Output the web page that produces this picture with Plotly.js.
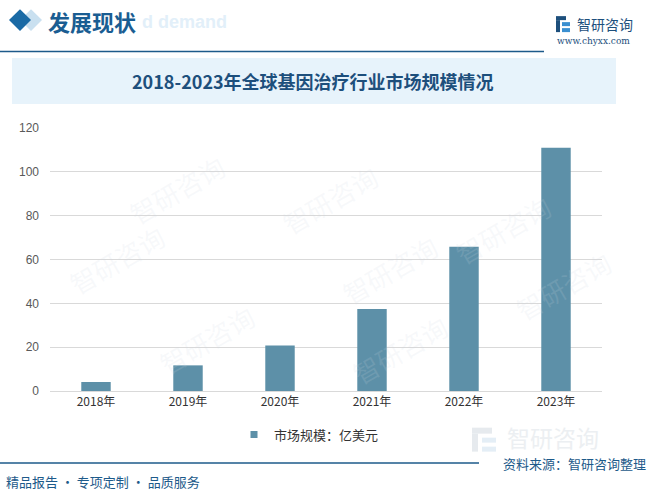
<!DOCTYPE html>
<html>
<head>
<meta charset="utf-8">
<script src="https://cdn.plot.ly/plotly-3.0.1.min.js"></script>
<style>
html,body{margin:0;padding:0;background:#fff;}
#chart{width:654px;height:497px;}
</style>
</head>
<body>
<div id="chart"></div>
<script>
// ---- data ----
const categories = ['2018年', '2019年', '2020年', '2021年', '2022年', '2023年'];
const marketSize = [4.1, 11.7, 20.8, 37.4, 65.8, 111];
const seriesName = '市场规模：亿美元';
const yTickValues = [0, 20, 40, 60, 80, 100, 120];
const chartTitle = '2018-2023年全球基因治疗行业市场规模情况';
const headerTitle = '发展现状';
const footerLeft = '精品报告 · 专项定制 · 品质服务';
const footerRight = '资料来源：智研咨询整理';

// ---- geometry helpers (pixel -> paper) ----
const W = 654, H = 497;
const L = 50, R = 602, T = 128, B = 391.3;
const px = x => (x - L) / (R - L);
const py = y => (B - y) / (B - T);

const CJK = '"Noto Sans CJK SC", "DejaVu Sans", sans-serif';

const traces = [
  {
    type: 'bar',
    x: categories,
    y: marketSize,
    marker: {color: '#5d90a8'},
    width: 0.32,
    showlegend: false,
    hoverinfo: 'x+y'
  },
  {
    type: 'scatter',
    mode: 'markers',
    x: [null],
    y: [null],
    name: seriesName,
    marker: {symbol: 'square', size: 7, color: '#5d90a8'},
    showlegend: true
  }
];

const shapes = [
  // title band
  {type: 'rect', xref: 'paper', yref: 'paper', x0: px(12), x1: px(616), y0: py(58), y1: py(104),
   fillcolor: '#e7f3fb', line: {width: 0}, layer: 'below'},
  // header line
  {type: 'line', xref: 'paper', yref: 'paper', x0: px(0), x1: px(544), y0: py(51.5), y1: py(51.5),
   line: {color: '#1d5a8a', width: 1.5}},
  // footer line
  {type: 'line', xref: 'paper', yref: 'paper', x0: px(0), x1: px(479), y0: py(463.5), y1: py(463.5),
   line: {color: '#1d5a8a', width: 1.5}},
  // light diamond
  {type: 'path', xref: 'paper', yref: 'paper',
   path: `M ${px(31)} ${py(9)} L ${px(42)} ${py(20)} L ${px(31)} ${py(31)} L ${px(20)} ${py(20)} Z`,
   fillcolor: '#c9e0f0', line: {width: 0}},
  // dark diamond
  {type: 'path', xref: 'paper', yref: 'paper',
   path: `M ${px(20)} ${py(9)} L ${px(31)} ${py(20)} L ${px(20)} ${py(31)} L ${px(9)} ${py(20)} Z`,
   fillcolor: '#1a6aa5', line: {width: 0}},
  // logo icon (top right)
  {type: 'rect', xref: 'paper', yref: 'paper', x0: px(556), x1: px(566), y0: py(16), y1: py(20),
   fillcolor: '#1d4f7c', line: {width: 0}},
  {type: 'rect', xref: 'paper', yref: 'paper', x0: px(556), x1: px(560), y0: py(20), y1: py(32),
   fillcolor: '#1d4f7c', line: {width: 0}},
  {type: 'rect', xref: 'paper', yref: 'paper', x0: px(562), x1: px(570), y0: py(22), y1: py(26),
   fillcolor: '#3a8fd0', line: {width: 0}},
  {type: 'rect', xref: 'paper', yref: 'paper', x0: px(562), x1: px(570), y0: py(28), y1: py(32),
   fillcolor: '#3a8fd0', line: {width: 0}},
  // faint bottom-right watermark icon
  {type: 'rect', xref: 'paper', yref: 'paper', x0: px(472), x1: px(492), y0: py(428), y1: py(434),
   fillcolor: '#e6eaee', line: {width: 0}, layer: 'below'},
  {type: 'rect', xref: 'paper', yref: 'paper', x0: px(472), x1: px(478), y0: py(434), y1: py(452),
   fillcolor: '#e6eaee', line: {width: 0}, layer: 'below'},
  {type: 'rect', xref: 'paper', yref: 'paper', x0: px(482), x1: px(496), y0: py(438), y1: py(443),
   fillcolor: '#e4eef6', line: {width: 0}, layer: 'below'},
  {type: 'rect', xref: 'paper', yref: 'paper', x0: px(482), x1: px(496), y0: py(447), y1: py(452),
   fillcolor: '#e4eef6', line: {width: 0}, layer: 'below'}
];

const annotations = [
  {text: 'd demand', xref: 'paper', yref: 'paper', x: px(140), y: py(22),
   xanchor: 'left', yanchor: 'middle', showarrow: false,
   font: {family: 'Arial, "Liberation Sans", sans-serif', size: 18, color: '#e2eff9', weight: 'bold'}},
  {text: headerTitle, xref: 'paper', yref: 'paper', x: px(46), y: py(21),
   xanchor: 'left', yanchor: 'middle', showarrow: false,
   font: {family: CJK, size: 22, color: '#1a5d92', weight: 'bold'}},
  {text: '智研咨询', xref: 'paper', yref: 'paper', x: px(575), y: py(24),
   xanchor: 'left', yanchor: 'middle', showarrow: false,
   font: {family: CJK, size: 14, color: '#1d4f7c'}},
  {text: 'www.chyxx.com', xref: 'paper', yref: 'paper', x: px(593), y: py(41),
   xanchor: 'center', yanchor: 'middle', showarrow: false,
   font: {family: '"DejaVu Serif", "Liberation Serif", serif', size: 9, color: '#1d4f7c'}},
  {text: chartTitle, xref: 'paper', yref: 'paper', x: px(313), y: py(81),
   xanchor: 'center', yanchor: 'middle', showarrow: false,
   font: {family: CJK, size: 18, color: '#1d4f7c', weight: 'bold'}},
  // faint bottom-right watermark
  {text: '智研咨询', xref: 'paper', yref: 'paper', x: px(505), y: py(437),
   xanchor: 'left', yanchor: 'middle', showarrow: false,
   font: {family: CJK, size: 23, color: '#eceff2'}},
  {text: footerLeft, xref: 'paper', yref: 'paper', x: px(4), y: py(482),
   xanchor: 'left', yanchor: 'middle', showarrow: false,
   font: {family: CJK, size: 13, color: '#1d5a8a'}},
  {text: footerRight, xref: 'paper', yref: 'paper', x: px(648), y: py(464),
   xanchor: 'right', yanchor: 'middle', showarrow: false,
   font: {family: CJK, size: 13, color: '#1d5a8a'}}
];

// faint diagonal watermarks in plot area
const wmPositions = [[120, 145], [330, 155], [560, 185], [60, 260], [390, 270], [150, 385], [400, 395], [620, 330]];
wmPositions.forEach(p => {
  annotations.push({text: '智研咨询', xref: 'paper', yref: 'paper', x: px(p[0]), y: py(p[1]),
    showarrow: false, textangle: -30,
    font: {family: CJK, size: 26, color: 'rgba(205,215,225,0.16)'}});
});

const layout = {
  width: W, height: H,
  margin: {l: L, r: W - R, t: T, b: H - B, pad: 0},
  paper_bgcolor: '#ffffff',
  plot_bgcolor: 'rgba(0,0,0,0)',
  xaxis: {
    type: 'category',
    showgrid: false,
    showline: true,
    linecolor: '#d9d9d9',
    linewidth: 1,
    ticks: '',
    tickfont: {family: CJK, size: 12, color: '#333333'},
    fixedrange: true
  },
  yaxis: {
    range: [0, 120],
    tickvals: yTickValues,
    showgrid: true,
    gridcolor: '#d9d9d9',
    gridwidth: 1,
    zeroline: false,
    showline: false,
    ticks: '',
    ticklabelstandoff: 10,
    tickfont: {family: '"Liberation Sans", Arial, sans-serif', size: 12, color: '#595959'},
    fixedrange: true
  },
  showlegend: true,
  legend: {
    orientation: 'h',
    x: px(234), xanchor: 'left',
    y: py(435), yanchor: 'middle',
    font: {family: CJK, size: 13, color: '#333333'},
    itemwidth: 30,
    bgcolor: 'rgba(0,0,0,0)'
  },
  shapes: shapes,
  annotations: annotations
};

Plotly.newPlot('chart', traces, layout, {displayModeBar: false, staticPlot: true});
</script>
</body>
</html>
